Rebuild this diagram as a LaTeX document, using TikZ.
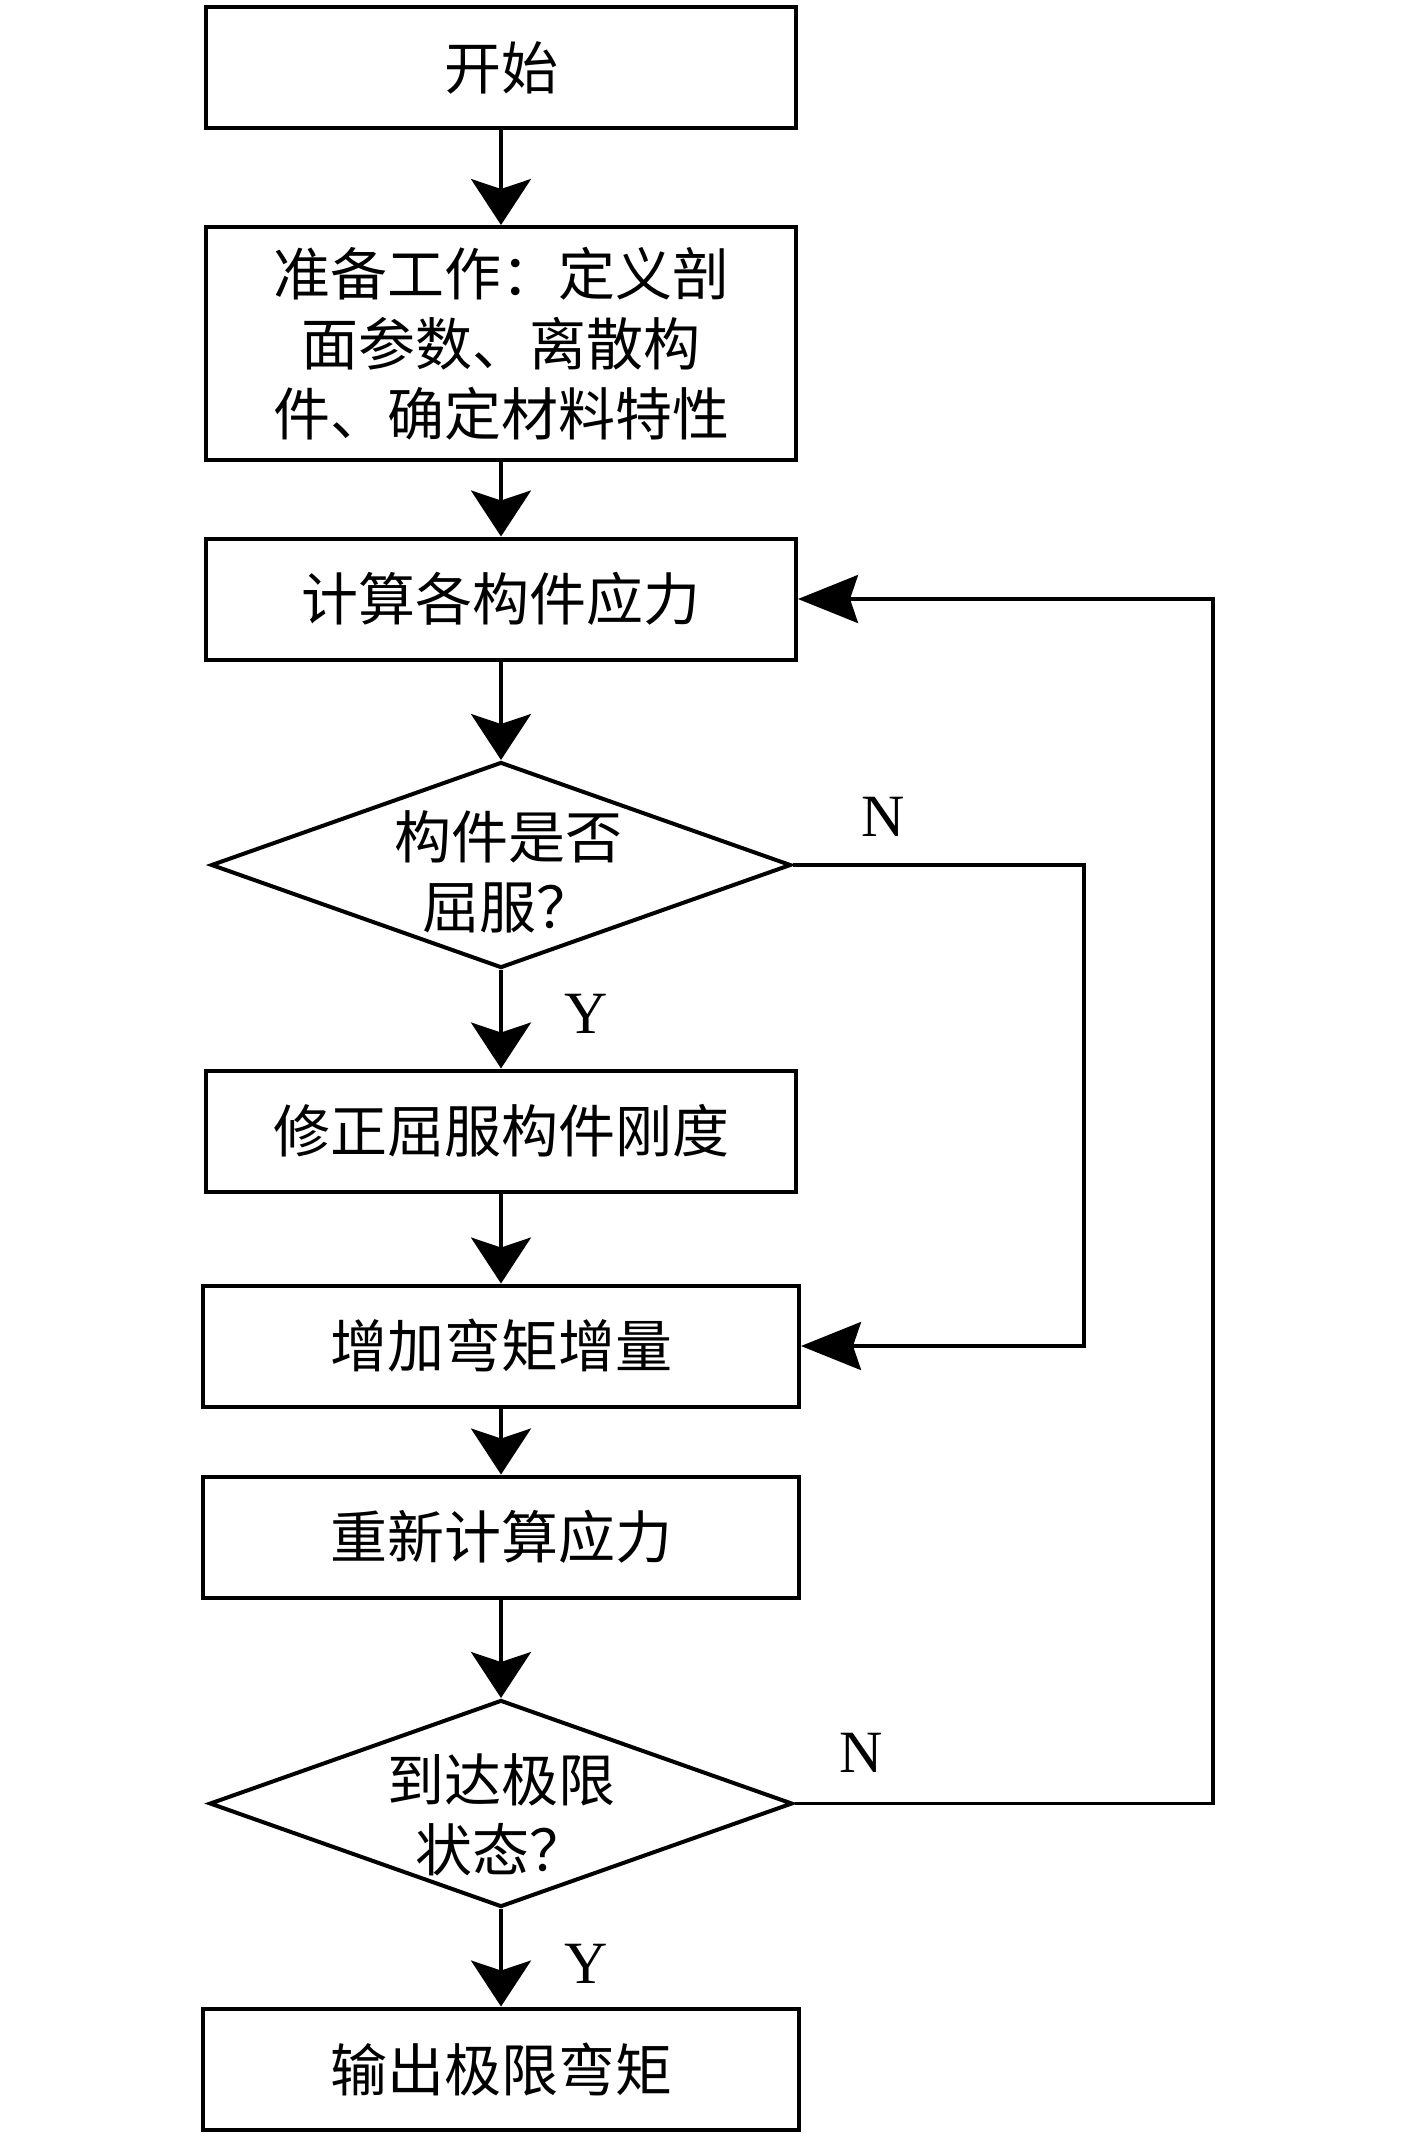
\documentclass[tikz,border=0pt]{standalone}
\usepackage{fontspec}
\setmainfont{Liberation Serif}
\newfontfamily\cjk{Noto Sans CJK SC}
\usetikzlibrary{shapes.geometric,arrows.meta}
\begin{document}
\begin{tikzpicture}[x=0.5pt,y=-0.5pt,
  box/.style={draw, line width=2pt, minimum width=295pt, minimum height=60.5pt, inner sep=0pt, font=\cjk\fontsize{28.5}{35}\selectfont, align=center},
  dia/.style={draw, diamond, line width=2pt, minimum width=290pt, minimum height=103pt, inner sep=0pt},
  lbl/.style={font=\cjk\fontsize{28.5}{35}\selectfont, align=center, inner sep=0pt},
  yn/.style={font=\fontsize{30}{30}\selectfont, inner sep=0pt},
  conn/.style={line width=1.7pt},
  varr/.style={conn, -{Stealth[length=23pt,width=30pt,inset=5pt]}},
  harr/.style={conn, -{Stealth[length=30pt,width=24pt,inset=4pt]}},
]
\useasboundingbox[fill=white] (0,0) rectangle (1417,2138);

\node[box] (b1) at (501,67.5) {开始};
\node[box, minimum height=116.5pt] (b2) at (501,343.5) {准备工作：定义剖\\面参数、离散构\\件、确定材料特性};
\node[box] (b3) at (501,599) {计算各构件应力};
\node[dia] (d1) at (501,865) {};
\node[lbl] (d1t) at (508,872) {构件是否\\屈服？};
\node[box] (b4) at (501,1131) {修正屈服构件刚度};
\node[box, minimum width=298pt] (b5) at (501,1346) {增加弯矩增量};
\node[box, minimum width=298pt] (b6) at (501,1537) {重新计算应力};
\node[dia, minimum width=291.5pt, minimum height=103.5pt] (d2) at (501,1803.5) {};
\node[lbl] (d2t) at (501,1815) {到达极限\\状态？};
\node[box, minimum width=298pt] (b7) at (501,2069) {输出极限弯矩};

\node[yn] (n1) at (883,817) {N};
\node[yn] (n2) at (861,1753) {N};
\node[yn] (y1) at (586,1014) {Y};
\node[yn] (y2) at (586,1964) {Y};

\coordinate (c1) at (1084,865);
\coordinate (c2) at (1213,1803.5);

\draw[varr] (b1.south) -- (b2.north);
\draw[varr] (b2.south) -- (b3.north);
\draw[varr] (b3.south) -- (d1.north);
\draw[varr] (d1.south) -- (b4.north);
\draw[varr] (b4.south) -- (b5.north);
\draw[varr] (b5.south) -- (b6.north);
\draw[varr] (b6.south) -- (d2.north);
\draw[varr] (d2.south) -- (b7.north);
\draw[harr] (d1.east) -- (c1) |- (b5.east);
\draw[harr] (d2.east) -- (c2) |- (b3.east);
\end{tikzpicture}
\end{document}
